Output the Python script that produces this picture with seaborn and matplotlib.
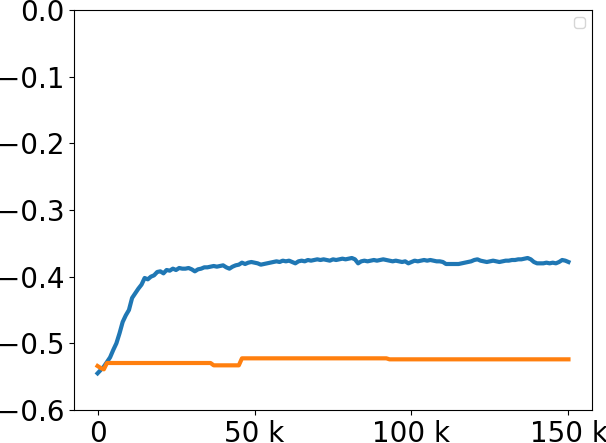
import numpy as np
import matplotlib
matplotlib.use("Agg")
import matplotlib.pyplot as plt
from matplotlib.ticker import EngFormatter
import seaborn as sns

# training steps (one sample every 1k steps)
steps = list(range(0, 151000, 1000))

# blue curve: mean return
returns = [
    -0.545, -0.540, -0.535, -0.528, -0.521, -0.510, -0.500, -0.485, -0.468, -0.458,
    -0.450, -0.432, -0.425, -0.418, -0.412, -0.402, -0.404, -0.400, -0.398, -0.393,
    -0.392, -0.395, -0.390, -0.391, -0.388, -0.390, -0.387, -0.388, -0.388, -0.387,
    -0.389, -0.392, -0.389, -0.388, -0.386, -0.386, -0.385, -0.384, -0.385, -0.384,
    -0.383, -0.386, -0.388, -0.385, -0.383, -0.382, -0.379, -0.381, -0.379, -0.378,
    -0.379, -0.380, -0.382, -0.381, -0.380, -0.379, -0.378, -0.377, -0.378, -0.376,
    -0.377, -0.376, -0.378, -0.380, -0.377, -0.376, -0.377, -0.375, -0.376, -0.375,
    -0.374, -0.375, -0.374, -0.375, -0.376, -0.374, -0.375, -0.374, -0.373, -0.374,
    -0.373, -0.372, -0.374, -0.380, -0.377, -0.376, -0.377, -0.376, -0.375, -0.376,
    -0.375, -0.374, -0.375, -0.376, -0.377, -0.376, -0.377, -0.378, -0.377, -0.380,
    -0.378, -0.376, -0.377, -0.376, -0.375, -0.376, -0.375, -0.376, -0.377, -0.377,
    -0.378, -0.381, -0.381, -0.381, -0.381, -0.381, -0.380, -0.379, -0.378, -0.377,
    -0.375, -0.374, -0.376, -0.377, -0.378, -0.377, -0.376, -0.377, -0.378, -0.377,
    -0.376, -0.376, -0.375, -0.375, -0.374, -0.374, -0.373, -0.372, -0.374, -0.378,
    -0.380, -0.380, -0.380, -0.379, -0.380, -0.379, -0.380, -0.378, -0.375, -0.376,
    -0.378,
]

# orange curve: baseline, only the points where it changes
baseline_steps = [0, 1000, 2000, 3000, 36000, 37000, 45000, 46000, 92000, 93000, 150000]
baseline = [-0.534, -0.537, -0.539, -0.5295, -0.5295, -0.533, -0.533,
            -0.5225, -0.5225, -0.524, -0.524]

fig, ax = plt.subplots(figsize=(6.06, 4.43), dpi=100)
fig.subplots_adjust(left=74 / 606, right=592 / 606, top=1 - 10 / 443, bottom=1 - 410 / 443)

sns.lineplot(x=steps, y=returns, ax=ax, color="#1f77b4", linewidth=3)
sns.lineplot(x=baseline_steps, y=baseline, ax=ax, color="#ff7f0e", linewidth=3)

ax.set_ylim(-0.6, 0.0)
ax.xaxis.set_major_formatter(EngFormatter())
ax.tick_params(labelsize=20)
ax.legend()

fig.savefig("out.png", dpi=100)
